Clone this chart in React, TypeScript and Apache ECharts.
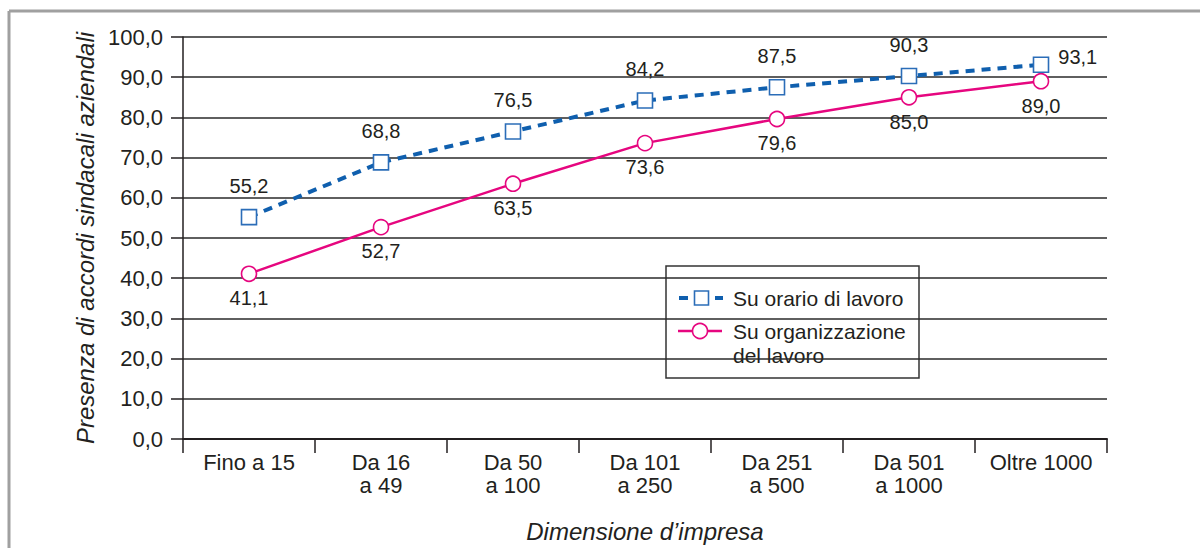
import React, { useEffect, useRef } from "react";
import * as echarts from "echarts";

const categories = [
  "Fino a 15",
  "Da 16\na 49",
  "Da 50\na 100",
  "Da 101\na 250",
  "Da 251\na 500",
  "Da 501\na 1000",
  "Oltre 1000",
];
const orarioValues = [55.2, 68.8, 76.5, 84.2, 87.5, 90.3, 93.1];
const organizzazioneValues = [41.1, 52.7, 63.5, 73.6, 79.6, 85.0, 89.0];
const seriesNames = ["Su orario di lavoro", "Su organizzazione\ndel lavoro"];
const yAxisTitle = "Presenza di accordi sindacali aziendali";
const xAxisTitle = "Dimensione d\u2019impresa";

const FONT = "'Liberation Sans', Arial, Helvetica, sans-serif";
const TEXT = "#231f20";
const BLUE = "#0f5fae";
const BLUE_SYM = "#2b6db8";
const PINK = "#e6067f";

const fmt = (v: number) => v.toFixed(1).replace(".", ",");

export default function App() {
  const ref = useRef<HTMLDivElement>(null);
  useEffect(() => {
    document.body.style.margin = "0";
    const chart = echarts.init(ref.current!, null, { renderer: "svg" });
    const lastIdx = orarioValues.length - 1;
    chart.setOption({
      animation: false,
      backgroundColor: "#ffffff",
      textStyle: { fontFamily: FONT },
      grid: { left: 183, right: 93, top: 37, bottom: 106 },
      xAxis: {
        type: "category",
        data: categories,
        boundaryGap: true,
        name: xAxisTitle,
        nameLocation: "middle",
        nameGap: 80,
        nameTextStyle: { fontSize: 24, fontStyle: "italic", color: TEXT, fontFamily: FONT },
        axisLine: { lineStyle: { color: TEXT, width: 2 } },
        axisTick: { show: true, alignWithLabel: false, length: 14, lineStyle: { color: TEXT, width: 1.5 } },
        axisLabel: { color: TEXT, fontSize: 22, lineHeight: 23, margin: 12, fontFamily: FONT, interval: 0 },
      },
      yAxis: {
        type: "value",
        min: 0,
        max: 100,
        interval: 10,
        name: yAxisTitle,
        nameLocation: "middle",
        nameGap: 82,
        nameRotate: 90,
        nameTextStyle: { fontSize: 24, fontStyle: "italic", color: TEXT, fontFamily: FONT },
        axisLine: { show: true, lineStyle: { color: TEXT, width: 1.5 } },
        axisTick: { show: true, length: 12, lineStyle: { color: TEXT, width: 1.5 } },
        axisLabel: { color: TEXT, fontSize: 22, margin: 20, fontFamily: FONT, formatter: (v: number) => fmt(v) },
        splitLine: { show: true, lineStyle: { color: "#2a2a2a", width: 1.5 } },
      },
      series: [
        {
          name: seriesNames[1],
          type: "line",
          data: organizzazioneValues,
          symbol: "circle",
          symbolSize: 15,
          z: 3,
          lineStyle: { color: PINK, width: 2.5 },
          itemStyle: { color: "#ffffff", borderColor: PINK, borderWidth: 1.6 },
          label: {
            show: true,
            position: "bottom",
            distance: 6,
            color: TEXT,
            fontSize: 20,
            fontFamily: FONT,
            formatter: (p: any) => fmt(p.value),
          },
        },
        {
          name: seriesNames[0],
          type: "line",
          data: orarioValues.map((v, i) =>
            i === lastIdx
              ? { value: v, label: { position: "right", distance: 9, offset: [0, -8] } }
              : v
          ),
          symbol: "rect",
          symbolSize: 15,
          z: 4,
          lineStyle: { color: BLUE, width: 4, type: [9, 7] },
          itemStyle: { color: "#ffffff", borderColor: BLUE_SYM, borderWidth: 1.6 },
          label: {
            show: true,
            position: "top",
            distance: 13,
            color: TEXT,
            fontSize: 20,
            fontFamily: FONT,
            formatter: (p: any) => fmt(p.value),
          },
        },
      ],
      graphic: [
        { type: "line", shape: { x1: 9, y1: 11, x2: 1200, y2: 11 }, style: { stroke: "#a0a0a0", lineWidth: 3 }, silent: true },
        { type: "line", shape: { x1: 9, y1: 11, x2: 9, y2: 548 }, style: { stroke: "#a0a0a0", lineWidth: 3 }, silent: true },
        {
          type: "group",
          z: 100,
          children: [
            { type: "rect", shape: { x: 666, y: 266, width: 253, height: 112 }, style: { fill: "#ffffff", stroke: "#333333", lineWidth: 1.5 } },
            { type: "line", shape: { x1: 679, y1: 298, x2: 688, y2: 298 }, style: { stroke: BLUE, lineWidth: 4 } },
            { type: "line", shape: { x1: 715, y1: 298, x2: 723, y2: 298 }, style: { stroke: BLUE, lineWidth: 4 } },
            { type: "rect", shape: { x: 694.5, y: 291, width: 14, height: 14 }, style: { fill: "#ffffff", stroke: BLUE_SYM, lineWidth: 1.6 } },
            { type: "text", x: 733, y: 298, style: { text: seriesNames[0], fill: TEXT, fontSize: 21, fontFamily: FONT, verticalAlign: "middle" } },
            { type: "line", shape: { x1: 678, y1: 331, x2: 722, y2: 331 }, style: { stroke: PINK, lineWidth: 2.5 } },
            { type: "circle", shape: { cx: 700, cy: 331, r: 7.5 }, style: { fill: "#ffffff", stroke: PINK, lineWidth: 1.6 } },
            { type: "text", x: 733, y: 319, style: { text: seriesNames[1], fill: TEXT, fontSize: 21, lineHeight: 24, fontFamily: FONT, verticalAlign: "top" } },
          ],
        },
      ],
    });
    return () => chart.dispose();
  }, []);
  return <div ref={ref} style={{ width: 1200, height: 548 }} />;
}
